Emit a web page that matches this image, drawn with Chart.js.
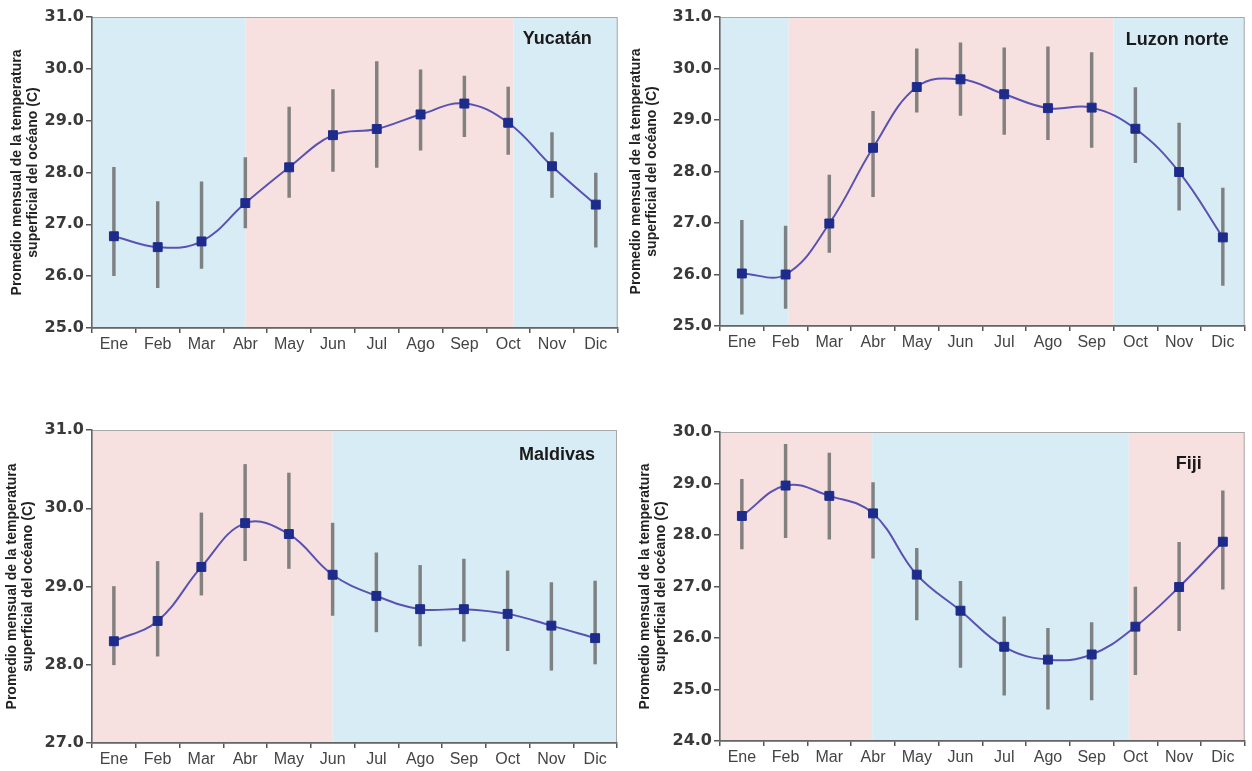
<!DOCTYPE html>
<html>
<head>
<meta charset="utf-8">
<script src="https://cdn.jsdelivr.net/npm/chart.js@4"></script>
<style>
  body { margin: 0; background: #fff; }
  .panel { position: absolute; }
</style>
</head>
<body>
<div class="panel" style="left:0;top:0"><canvas id="yucatan" width="625" height="360"></canvas></div>
<div class="panel" style="left:625px;top:0"><canvas id="luzon" width="627" height="360"></canvas></div>
<div class="panel" style="left:0;top:410px"><canvas id="maldivas" width="625" height="361"></canvas></div>
<div class="panel" style="left:625px;top:410px"><canvas id="fiji" width="627" height="361"></canvas></div>
<script>
// months
const months = ['Ene', 'Feb', 'Mar', 'Abr', 'May', 'Jun', 'Jul', 'Ago', 'Sep', 'Oct', 'Nov', 'Dic']

// Yucatán
const yucatanMean = [26.77, 26.56, 26.67, 27.41, 28.10, 28.72, 28.84, 29.12, 29.33, 28.96, 28.12, 27.38]
const yucatanLow  = [26.01, 25.78, 26.15, 26.93, 27.52, 28.02, 28.10, 28.43, 28.69, 28.35, 27.52, 26.56]
const yucatanHigh = [28.10, 27.44, 27.82, 28.29, 29.26, 29.60, 30.14, 29.98, 29.86, 29.65, 28.77, 27.99]
const yucatanSeasons = ['frio', 'calido', 'frio']
const yucatanBreaks = [3, 9.12]

// Luzon norte
const luzonMean = [26.02, 26.00, 26.99, 28.46, 29.64, 29.79, 29.50, 29.23, 29.24, 28.83, 27.99, 26.72]
const luzonLow  = [25.23, 25.34, 26.43, 27.51, 29.15, 29.09, 28.72, 28.62, 28.47, 28.17, 27.25, 25.79]
const luzonHigh = [27.05, 26.94, 27.93, 29.17, 30.38, 30.50, 30.40, 30.42, 30.31, 29.63, 28.94, 27.68]
const luzonSeasons = ['frio', 'calido', 'frio']
const luzonBreaks = [1.07, 8.5]

// Maldivas
const maldivasMean = [28.30, 28.56, 29.25, 29.81, 29.67, 29.15, 28.88, 28.71, 28.71, 28.65, 28.50, 28.34]
const maldivasLow  = [28.00, 28.11, 28.89, 29.33, 29.23, 28.63, 28.42, 28.24, 28.30, 28.18, 27.93, 28.01]
const maldivasHigh = [29.00, 29.32, 29.94, 30.56, 30.45, 29.81, 29.43, 29.27, 29.35, 29.20, 29.05, 29.07]
const maldivasSeasons = ['calido', 'frio']
const maldivasBreaks = [5]

// Fiji
const fijiMean = [28.37, 28.96, 28.76, 28.42, 27.23, 26.53, 25.83, 25.58, 25.68, 26.22, 26.99, 27.87]
const fijiLow  = [27.73, 27.95, 27.92, 27.55, 26.35, 25.43, 24.89, 24.62, 24.80, 25.29, 26.14, 26.95]
const fijiHigh = [29.08, 29.76, 29.59, 29.02, 27.74, 27.10, 26.41, 26.19, 26.30, 26.99, 27.86, 28.86]
const fijiSeasons = ['calido', 'frio', 'calido']
const fijiBreaks = [2.98, 8.85]

const seasonColors = { frio: '#d8ecf5', calido: '#f7e0e0' }

// shaded seasons + frame behind everything
const seasonBands = {
    id: 'seasonBands',
    beforeDraw(chart, args, opts) {
        const { ctx, chartArea: area, scales: { x } } = chart
        const edges = [-0.5, ...opts.breaks, months.length - 0.5]
        ctx.save()
        opts.seasons.forEach((s, i) => {
            const x0 = x.getPixelForValue(edges[i])
            const x1 = x.getPixelForValue(edges[i + 1])
            ctx.fillStyle = seasonColors[s]
            ctx.fillRect(x0, area.top, x1 - x0, area.bottom - area.top)
        })
        ctx.strokeStyle = '#a8a8a8'
        ctx.lineWidth = 1
        ctx.strokeRect(area.left, area.top + 0.5, area.right - area.left - 0.5, area.bottom - area.top)
        ctx.restore()
    },
    afterDraw(chart, args, opts) {
        const { ctx, chartArea: area } = chart
        ctx.save()
        ctx.font = 'bold 18px "Liberation Sans", Arial, sans-serif'
        ctx.fillStyle = '#1a1a1a'
        ctx.textAlign = 'right'
        ctx.textBaseline = 'middle'
        ctx.fillText(opts.name, area.right - opts.nameRight, area.top + opts.nameTop)
        ctx.restore()
    }
}

function makeChart(id, name, mean, low, high, seasons, breaks, yMin, yMax, lay) {
    const el = document.getElementById(id).getContext('2d')
    return new Chart(el, {
        type: 'line',
        data: {
            labels: months,
            datasets: [{
                type: 'line',
                label: name,
                data: mean,
                borderColor: '#5a52b2',
                borderWidth: 2,
                tension: 0.4,
                pointStyle: 'rect',
                pointRadius: 6.3,
                pointBackgroundColor: '#1d2b8c',
                pointBorderColor: '#1d2b8c',
                pointBorderWidth: 1,
                order: 0
            }, {
                type: 'bar',
                label: 'rango',
                data: low.map((l, i) => [l, high[i]]),
                backgroundColor: 'rgba(110,110,110,0.85)',
                barThickness: 2.8,
                order: 1
            }]
        },
        options: {
            responsive: false,
            animation: false,
            events: [],
            layout: { padding: { left: 0, top: lay.top, right: lay.right, bottom: 0 } },
            plugins: {
                legend: { display: false },
                tooltip: { enabled: false },
                seasonBands: { seasons, breaks, name, nameRight: lay.nameRight, nameTop: lay.nameTop }
            },
            scales: {
                x: {
                    type: 'category',
                    offset: true,
                    grid: { offset: true, drawOnChartArea: false, tickLength: 5, color: '#555', lineWidth: 1.5 },
                    border: { color: '#666', width: 1.5 },
                    ticks: { color: '#444', padding: 2, maxRotation: 0, autoSkip: false,
                        font: { family: '"Liberation Sans", Arial, sans-serif', size: 16 } },
                    afterFit(scale) { scale.height = lay.xHeight }
                },
                y: {
                    min: yMin,
                    max: yMax,
                    grid: { drawOnChartArea: false, tickLength: 6, color: '#555', lineWidth: 1.5 },
                    border: { color: '#666', width: 1.5 },
                    ticks: { stepSize: 1, color: '#3a3a3a', padding: 2,
                        font: { family: '"DejaVu Sans", sans-serif', size: 16, weight: 'bold' },
                        callback: v => v.toFixed(1) },
                    title: {
                        display: true,
                        text: ['Promedio mensual de la temperatura', 'superficial del océano (C)'],
                        color: '#222',
                        padding: { top: lay.titlePad, bottom: 0 },
                        font: { family: '"Liberation Sans", Arial, sans-serif', size: 14, weight: 'bold', lineHeight: 1.15 }
                    },
                    afterFit(scale) { scale.width = lay.yWidth }
                }
            }
        },
        plugins: [seasonBands]
    })
}

makeChart('yucatan', 'Yucatán', yucatanMean, yucatanLow, yucatanHigh, yucatanSeasons, yucatanBreaks, 25, 31,
    { top: 17, right: 7, yWidth: 92, xHeight: 32, titlePad: 9, nameRight: 26, nameTop: 22 })
makeChart('luzon', 'Luzon norte', luzonMean, luzonLow, luzonHigh, luzonSeasons, luzonBreaks, 25, 31,
    { top: 17, right: 4, yWidth: 95, xHeight: 34, titlePad: 3, nameRight: 16, nameTop: 23 })
makeChart('maldivas', 'Maldivas', maldivasMean, maldivasLow, maldivasHigh, maldivasSeasons, maldivasBreaks, 27, 31,
    { top: 20, right: 8, yWidth: 92, xHeight: 28, titlePad: 4, nameRight: 22, nameTop: 25 })
makeChart('fiji', 'Fiji', fijiMean, fijiLow, fijiHigh, fijiSeasons, fijiBreaks, 24, 30,
    { top: 22, right: 4, yWidth: 95, xHeight: 30, titlePad: 12, nameRight: 43, nameTop: 32 })
</script>
</body>
</html>
